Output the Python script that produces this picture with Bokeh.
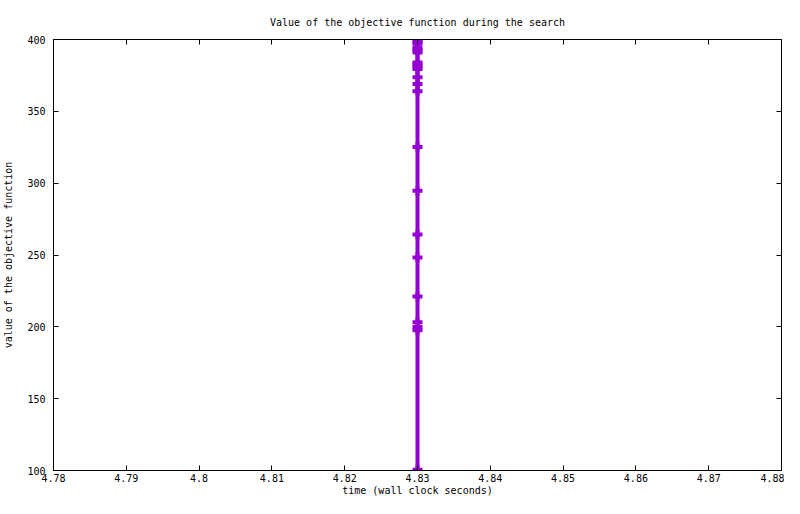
from bokeh.plotting import figure
from bokeh.models import LinearAxis, Range1d, FixedTicker
from bokeh.embed import file_html
from bokeh.resources import INLINE

# ---- data ----
times = [4.83, 4.83, 4.83, 4.83, 4.83, 4.83, 4.83, 4.83, 4.83, 4.83, 4.83,
         4.83, 4.83, 4.83, 4.83, 4.83, 4.83, 4.83, 4.83, 4.83, 4.83, 4.83]
objective = [100.5, 197.7, 199.8, 203.2, 221.2, 248.3, 264.2, 294.7, 325.2,
             364.0, 369.0, 373.7, 379.5, 381.0, 382.5, 384.0, 391.0, 392.5,
             394.0, 397.0, 398.5, 400.0]

x_ticks = [4.78, 4.79, 4.80, 4.81, 4.82, 4.83, 4.84, 4.85, 4.86, 4.87, 4.88]
x_tick_labels = ["4.78", "4.79", "4.8", "4.81", "4.82", "4.83", "4.84",
                 "4.85", "4.86", "4.87", "4.88"]
y_ticks = [100, 150, 200, 250, 300, 350, 400]

title_text = "Value of the objective function during the search"
x_label = "time (wall clock seconds)"
y_label = "value of the objective function"

FONT = "DejaVu Sans Mono"
FS = "10px"
COLOR = "#9400D3"

p = figure(width=784, height=498, output_backend="svg", toolbar_location=None,
           x_range=Range1d(4.78, 4.88), y_range=Range1d(100, 400),
           min_border_left=53, min_border_right=3, min_border_top=39,
           min_border_bottom=27, title=title_text)

p.title.text_font = FONT
p.title.text_font_size = FS
p.title.text_font_style = "normal"
p.title.text_color = "black"
p.title.align = "center"
p.title.standoff = 23

p.xgrid.visible = False
p.ygrid.visible = False
p.outline_line_color = "black"
p.outline_line_width = 1
p.background_fill_color = "white"
p.border_fill_color = "white"

overrides = {t: l for t, l in zip(x_ticks, x_tick_labels)}

def style_axis(ax, ticks, labels=True):
    ax.ticker = FixedTicker(ticks=ticks)
    ax.axis_line_color = "black"
    ax.major_tick_line_color = "black"
    ax.major_tick_in = 5
    ax.major_tick_out = 0
    ax.minor_tick_line_color = None
    ax.major_label_text_font = FONT
    ax.major_label_text_font_size = FS
    ax.major_label_text_color = "black"
    ax.axis_label_text_font = FONT
    ax.axis_label_text_font_size = FS
    ax.axis_label_text_font_style = "normal"
    ax.axis_label_text_color = "black"
    if not labels:
        ax.major_label_text_font_size = "0px"
        ax.major_label_text_color = None
        ax.major_label_text_alpha = 0
        ax.major_label_standoff = 0

xa = p.xaxis[0]
style_axis(xa, x_ticks)
xa.major_label_overrides = overrides
xa.major_label_standoff = 3
xa.axis_label = x_label
xa.axis_label_standoff = 0

ya = p.yaxis[0]
style_axis(ya, y_ticks)
ya.major_label_standoff = 8
ya.axis_label = y_label
ya.axis_label_standoff = 10

top = LinearAxis()
style_axis(top, x_ticks, labels=False)
p.add_layout(top, "above")
right = LinearAxis()
style_axis(right, y_ticks, labels=False)
p.add_layout(right, "right")

p.line(times, objective, line_color=COLOR, line_width=4)
p.scatter(times, objective, marker="cross", size=10, line_color=COLOR,
          line_width=4)

open("out.html", "w").write(file_html(p, INLINE))
